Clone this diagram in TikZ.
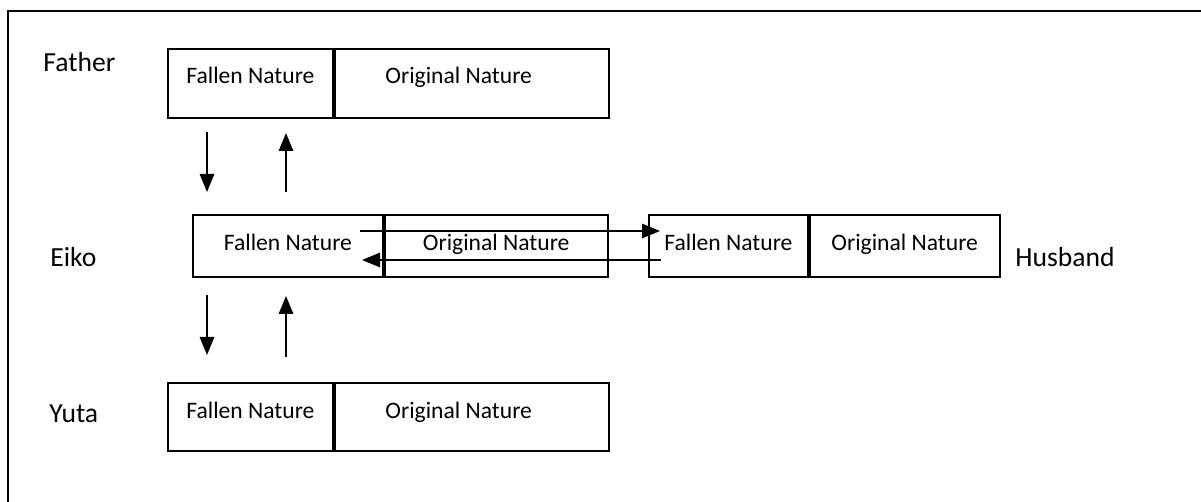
\documentclass[tikz,border=0pt]{standalone}
\usepackage{fontspec}
\setmainfont{Carlito}
\usetikzlibrary{arrows.meta}
\begin{document}
\begin{tikzpicture}[x=0.5pt,y=-0.5pt,
  cell/.style={draw,line width=0.9pt,anchor=north west,inner sep=0pt,text height=8pt,font=\fontsize{11.8}{14}\selectfont},
  tall/.style={cell,minimum height=34.5pt,text depth=7.5pt},
  short/.style={cell,minimum height=31pt,text depth=3pt},
  who/.style={anchor=base west,inner sep=0pt,font=\fontsize{13.8}{16}\selectfont},
  arr/.style={-{Triangle[length=9pt,width=7.2pt]},line width=0.85pt}]
\useasboundingbox (0,0) rectangle (1201,502);
\draw[line width=1pt] (8,502) -- (8,11) -- (1201,11);
% father
\node[tall,minimum width=82.5pt] (ffall) at (167,48) {Fallen Nature};
\node[tall,minimum width=137pt] (forig) at (ffall.north east) {Original Nature\kern13pt};
% eiko
\node[short,minimum width=95pt] (efall) at (192,214) {Fallen Nature};
\node[short,minimum width=111.5pt] (eorig) at (efall.north east) {Original Nature};
% husband
\node[short,minimum width=79.5pt] (hfall) at (648,214) {Fallen Nature};
\node[short,minimum width=95pt] (horig) at (hfall.north east) {Original Nature};
% yuta
\node[tall,minimum height=34pt,text depth=6pt,minimum width=82.5pt] (yfall) at (167,382) {Fallen Nature};
\node[tall,minimum height=34pt,text depth=6pt,minimum width=137pt] (yorig) at (yfall.north east) {Original Nature\kern13pt};
\node[who] (father) at (43,72) {Father};
\node[who] (eiko) at (50,267) {Eiko};
\node[who] (husband) at (1015,267) {Husband};
\node[who] (yuta) at (49,423) {Yuta};
\coordinate (fe1) at (207,132);
\coordinate (fe2) at (207,192);
\coordinate (ef1) at (286,192);
\coordinate (ef2) at (286,133);
\coordinate (ey1) at (207,295);
\coordinate (ey2) at (207,355);
\coordinate (ye1) at (286,357);
\coordinate (ye2) at (286,296);
\coordinate (eh1) at (360,231);
\coordinate (eh2) at (660,231);
\coordinate (he1) at (661,260);
\coordinate (he2) at (362,260);
\draw[arr] (fe1) -- (fe2);
\draw[arr] (ef1) -- (ef2);
\draw[arr] (ey1) -- (ey2);
\draw[arr] (ye1) -- (ye2);
\draw[arr] (eh1) -- (eh2);
\draw[arr] (he1) -- (he2);
\end{tikzpicture}
\end{document}
